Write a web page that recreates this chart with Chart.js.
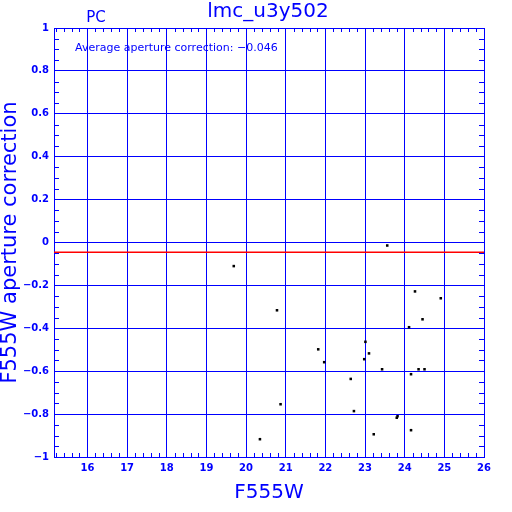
<!DOCTYPE html>
<html>
<head>
<meta charset="utf-8">
<script src="https://cdn.jsdelivr.net/npm/chart.js@4/dist/chart.umd.min.js"></script>
<style>
  body { margin: 0; background: #fff; }
  #apCorrChart { display: block; }
</style>
</head>
<body>
<canvas id="apCorrChart" width="512" height="512"></canvas>
<script>
const magF555W = [19.69, 20.78, 23.56, 24.26, 24.91, 24.45, 24.11, 23.01, 21.82, 23.10, 22.98, 21.97,
                  23.43, 24.35, 24.50, 24.16, 22.64, 20.87, 22.72, 23.82, 23.80, 24.16, 23.22, 20.35];
const apCorr = [-0.11, -0.316, -0.014, -0.228, -0.26, -0.358, -0.395, -0.463, -0.498, -0.517, -0.544, -0.558,
                -0.591, -0.591, -0.591, -0.614, -0.636, -0.754, -0.786, -0.81, -0.817, -0.875, -0.894, -0.917];
const avgCorrection = -0.046;
const xTicks = [16, 17, 18, 19, 20, 21, 22, 23, 24, 25, 26];
const yTicks = [-1, -0.8, -0.6, -0.4, -0.2, 0, 0.2, 0.4, 0.6, 0.8, 1];
const xMin = 15.157, xMax = 26;

const blue = '#0000ff';

// minus sign instead of hyphen, like the original plot
function fmt(v, digits) {
    const s = digits ? Math.abs(v).toFixed(digits) : String(Math.abs(Math.round(v * 10) / 10));
    return v < 0 ? '\u2212' + s : s;
}

// minor tick marks + text labels
const decorPlugin = {
    id: 'decor',
    afterDraw(chart) {
        const ctx = chart.ctx;
        const a = chart.chartArea;
        const xs = chart.scales.x, ys = chart.scales.y;
        ctx.save();
        ctx.strokeStyle = blue;
        ctx.lineWidth = 1;
        ctx.beginPath();
        for (let i = 76; i <= 130; i++) {
            if (i % 5 === 0) continue;
            const px = Math.round(xs.getPixelForValue(i / 5)) + 0.5;
            if (px < a.left || px > a.right) continue;
            ctx.moveTo(px, a.bottom); ctx.lineTo(px, a.bottom - 4);
            ctx.moveTo(px, a.top); ctx.lineTo(px, a.top + 4);
        }
        for (let j = -19; j <= 19; j++) {
            if (j % 4 === 0) continue;
            const py = Math.round(ys.getPixelForValue(j / 20)) + 0.5;
            ctx.moveTo(a.left, py); ctx.lineTo(a.left + 5, py);
            ctx.moveTo(a.right, py); ctx.lineTo(a.right - 5, py);
        }
        ctx.stroke();

        ctx.fillStyle = blue;
        ctx.textBaseline = 'middle';
        ctx.textAlign = 'center';
        ctx.font = '20px "DejaVu Sans"';
        ctx.fillText('lmc_u3y502', 268, 12);
        ctx.font = '15px "DejaVu Sans"';
        ctx.fillText('PC', 96, 18);
        ctx.textAlign = 'left';
        ctx.font = '11px "DejaVu Sans"';
        ctx.fillText('Average aperture correction: ' + fmt(avgCorrection, 3), 75, 48);
        ctx.restore();
    }
};

new Chart(document.getElementById('apCorrChart'), {
    type: 'scatter',
    data: {
        datasets: [{
            data: magF555W.map((m, i) => ({ x: m, y: apCorr[i] })),
            pointStyle: 'rect',
            pointRadius: 1.8,
            borderWidth: 0,
            backgroundColor: '#000'
        }, {
            data: [{ x: xMin, y: avgCorrection }, { x: xMax, y: avgCorrection }],
            showLine: true,
            borderColor: '#ff0000',
            borderWidth: 1.5,
            pointRadius: 0
        }]
    },
    options: {
        responsive: false,
        animation: false,
        layout: { padding: { top: 28, right: 28, left: 0, bottom: 0 } },
        plugins: { legend: { display: false }, tooltip: { enabled: false } },
        scales: {
            x: {
                type: 'linear',
                min: xMin,
                max: xMax,
                afterBuildTicks: s => { s.ticks = xTicks.map(v => ({ value: v })); },
                afterFit: s => { s.height = 55; },
                grid: { color: blue, lineWidth: 1, drawTicks: false },
                border: { color: blue, width: 1 },
                ticks: {
                    color: blue, padding: 5,
                    font: { family: 'DejaVu Sans', size: 10, weight: 'bold' },
                    callback: v => fmt(v)
                },
                title: {
                    display: true, text: 'F555W', color: blue,
                    font: { family: 'DejaVu Sans', size: 20, lineHeight: 1.2 },
                    padding: { top: 0, bottom: 7 }
                }
            },
            y: {
                type: 'linear',
                min: -1,
                max: 1,
                afterBuildTicks: s => { s.ticks = yTicks.map(v => ({ value: v })); },
                afterFit: s => { s.width = 54; },
                grid: { color: blue, lineWidth: 1, drawTicks: false },
                border: { color: blue, width: 1 },
                ticks: {
                    color: blue, padding: 5,
                    font: { family: 'DejaVu Sans', size: 10, weight: 'bold' },
                    callback: v => fmt(v)
                },
                title: {
                    display: true, text: 'F555W aperture correction', color: blue,
                    font: { family: 'DejaVu Sans', size: 21, lineHeight: 1 },
                    padding: { top: 0, bottom: 0 }
                }
            }
        }
    },
    plugins: [decorPlugin]
});
</script>
</body>
</html>
